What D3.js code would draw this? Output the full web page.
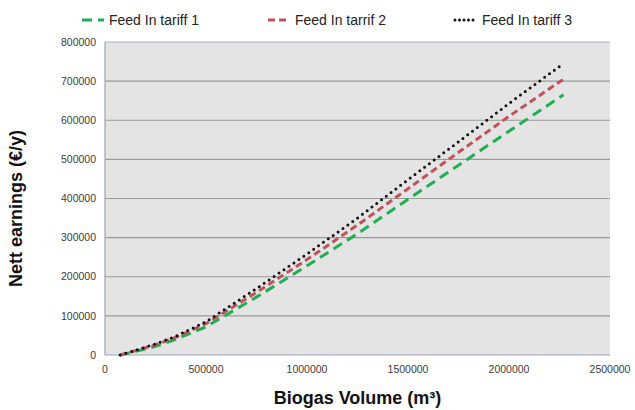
<!DOCTYPE html>
<html>
<head>
<meta charset="utf-8">
<script src="https://cdn.jsdelivr.net/npm/d3@7"></script>
<style>
  body { margin: 0; background: #fff; }
  svg { font-family: "Liberation Sans", Arial, sans-serif; }
</style>
</head>
<body>
<svg id="vis-svg"></svg>
<script>
// Biogas volume (m3) at which values were read
const volumes = [75000, 150000, 250000, 350000, 500000, 750000, 1000000, 1250000, 1500000, 1750000, 2000000, 2270000];
// Nett earnings (EUR/y) per tariff
const tariff1 = [0, 9000, 22000, 40000, 72000, 148000, 228000, 310000, 398000, 485000, 572000, 665000];
const tariff2 = [0, 11000, 26000, 45000, 80000, 160000, 244000, 332000, 425000, 518000, 610000, 705000];
const tariff3 = [0, 12000, 28000, 48000, 85000, 170000, 258000, 350000, 448000, 545000, 643000, 745000];
const seriesNames = ["Feed In tariff 1", "Feed In tarrif 2", "Feed In tariff 3"];
const xTicks = [0, 500000, 1000000, 1500000, 2000000, 2500000];
const yTicks = [0, 100000, 200000, 300000, 400000, 500000, 600000, 700000, 800000];

const W = 635, H = 410;
const margin = { top: 42, right: 25, bottom: 55, left: 105 },
    width = W - margin.left - margin.right,
    height = H - margin.top - margin.bottom;

const styles = [
    { color: "#1fae52", dash: "10,6", cap: "butt", w: 3 },
    { color: "#c0525a", dash: "7,4", cap: "butt", w: 3 },
    { color: "#111", dash: "0,6", cap: "round", w: 3 }
];

const svg = d3.select("#vis-svg").attr("width", W).attr("height", H);
const g = svg.append("g").attr("transform", "translate(" + margin.left + "," + margin.top + ")");

const x = d3.scaleLinear().domain([0, 2500000]).range([0, width]);
const y = d3.scaleLinear().domain([0, 800000]).range([height, 0]);

// plot background
g.append("rect")
    .attr("width", width).attr("height", height)
    .attr("fill", "#e4e4e4");

// gridlines
g.selectAll(".grid").data(yTicks.slice(1)).enter().append("line")
    .attr("x1", 0).attr("x2", width)
    .attr("y1", d => y(d)).attr("y2", d => y(d))
    .attr("stroke", d => d === 800000 ? "#a9b1c6" : "#9a9a9a")
    .attr("stroke-width", 1.2);

// axes lines
g.append("line").attr("x1", 0).attr("x2", 0).attr("y1", 0).attr("y2", height)
    .attr("stroke", "#9aa3bb").attr("stroke-width", 1.2);
g.append("line").attr("x1", 0).attr("x2", width).attr("y1", height).attr("y2", height)
    .attr("stroke", "#9aa3bb").attr("stroke-width", 1.2);

// y tick labels
g.selectAll(".ylab").data(yTicks).enter().append("text")
    .attr("x", -9).attr("y", d => y(d)).attr("dy", "0.35em")
    .attr("text-anchor", "end")
    .style("font-size", "10.5px").style("fill", "#3a3a3a")
    .text(d => d);

// x tick labels
g.selectAll(".xlab").data(xTicks).enter().append("text")
    .attr("x", d => x(d)).attr("y", height + 18)
    .attr("text-anchor", "middle")
    .style("font-size", "10.5px").style("fill", "#3a3a3a")
    .text(d => d);

// lines
const allSeries = [tariff1, tariff2, tariff3];
const line = d3.line().x(d => x(d[0])).y(d => y(d[1]));
allSeries.forEach((vals, i) => {
    const pts = volumes.map((v, j) => [v, vals[j]]);
    g.append("path")
        .datum(pts)
        .attr("d", line)
        .attr("fill", "none")
        .attr("stroke", styles[i].color)
        .attr("stroke-width", styles[i].w)
        .attr("stroke-dasharray", styles[i].dash)
        .attr("stroke-linecap", styles[i].cap);
});

// legend
const legendX = [82, 268, 455];
seriesNames.forEach((name, i) => {
    svg.append("line")
        .attr("x1", legendX[i]).attr("x2", legendX[i] + 22)
        .attr("y1", 20).attr("y2", 20)
        .attr("stroke", styles[i].color)
        .attr("stroke-width", styles[i].w)
        .attr("stroke-dasharray", i === 2 ? "0,4.5" : styles[i].dash)
        .attr("stroke-linecap", styles[i].cap);
    svg.append("text")
        .attr("x", legendX[i] + 27).attr("y", 20).attr("dy", "0.35em")
        .style("font-size", "14px").style("fill", "#222")
        .text(name);
});

// axis titles
svg.append("text")
    .attr("transform", "translate(22," + (margin.top + height / 2 + 10) + ") rotate(-90)")
    .attr("text-anchor", "middle")
    .style("font-size", "18px").style("font-weight", "bold").style("fill", "#111")
    .text("Nett earnings (€/y)");

svg.append("text")
    .attr("x", margin.left + width / 2 + 0).attr("y", 404)
    .attr("text-anchor", "middle")
    .style("font-size", "18px").style("font-weight", "bold").style("fill", "#111")
    .text("Biogas Volume (m³)");
</script>
</body>
</html>
